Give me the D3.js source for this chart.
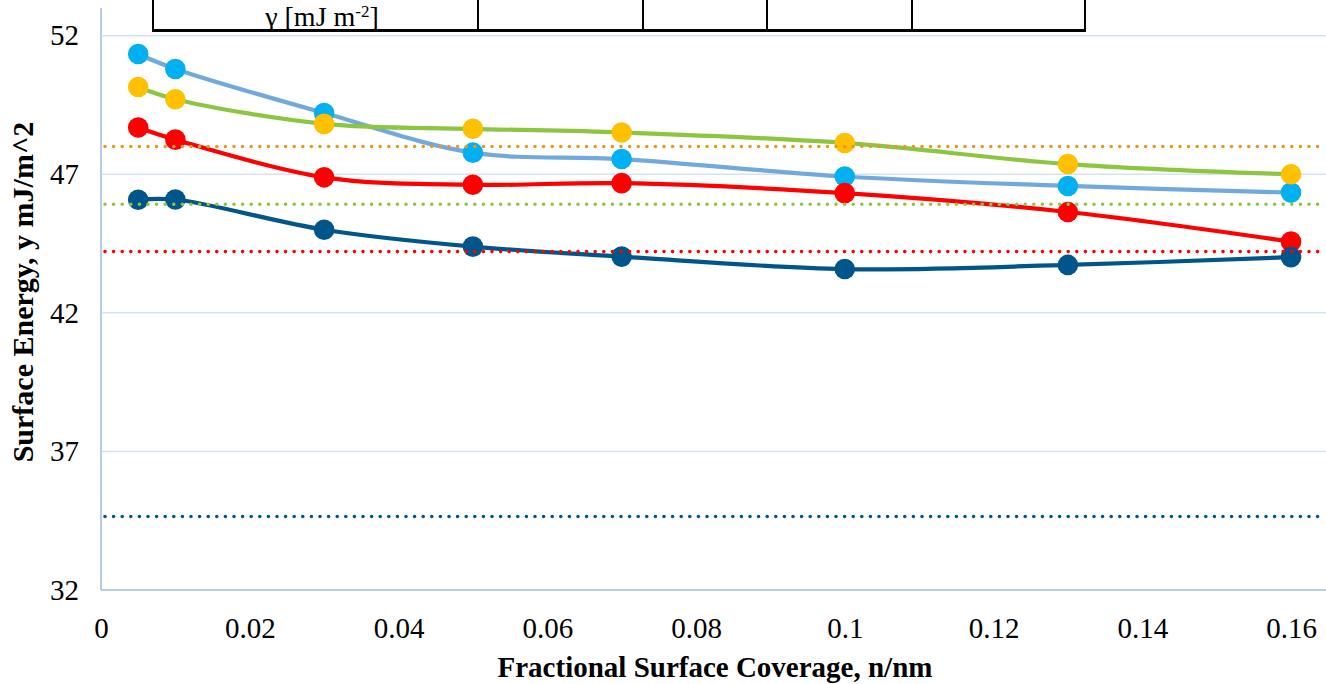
<!DOCTYPE html>
<html>
<head>
<meta charset="utf-8">
<script src="https://cdn.jsdelivr.net/npm/d3@7"></script>
<style>
html,body{margin:0;padding:0;background:#fff;overflow:hidden;}
svg{display:block;}
svg text{font-family:'Liberation Serif','Times New Roman',serif;}
</style>
</head>
<body>
<svg id="chart" width="1326" height="684"></svg>
<script>
// ---- data ----
const coverage = [0.005, 0.01, 0.03, 0.05, 0.07, 0.1, 0.13, 0.16];
const seriesCyan   = [51.34, 50.80, 49.21, 47.78, 47.55, 46.92, 46.58, 46.34];
const seriesYellow = [50.15, 49.71, 48.82, 48.64, 48.51, 48.13, 47.37, 47.00];
const seriesRed    = [48.69, 48.25, 46.89, 46.62, 46.68, 46.32, 45.64, 44.57];
const seriesNavy   = [46.08, 46.09, 45.00, 44.39, 44.03, 43.58, 43.73, 44.01];
const refOrange = 48.00;
const refGreen  = 45.92;
const refRed    = 44.21;
const refNavy   = 34.65;
const xTicks = [0, 0.02, 0.04, 0.06, 0.08, 0.1, 0.12, 0.14, 0.16];
const yTicks = [32, 37, 42, 47, 52];
const xTitle = "Fractional Surface Coverage, n/nm";
const yTitle = "Surface Energy, y mJ/m^2";

// ---- layout ----
const svg = d3.select("#chart");
const W = 1326, H = 684;
const left = 101, bottom = 590, right = W;
const x = d3.scaleLinear().domain([0, 0.16]).range([left, 1291]);
const y = d3.scaleLinear().domain([32, 53]).range([bottom, 8]);
const font = "'Liberation Serif','Times New Roman',serif";

// gridlines
svg.append("g").selectAll("line").data(yTicks.slice(1)).join("line")
  .attr("x1", left).attr("x2", right)
  .attr("y1", d => y(d)).attr("y2", d => y(d))
  .attr("stroke", "#d6e1f2").attr("stroke-width", 1.5);

// axes lines
svg.append("line").attr("x1", left).attr("x2", left)
  .attr("y1", y(53)).attr("y2", bottom)
  .attr("stroke", "#b9cbe9").attr("stroke-width", 2);
svg.append("line").attr("x1", left).attr("x2", right)
  .attr("y1", bottom).attr("y2", bottom)
  .attr("stroke", "#b9cbe9").attr("stroke-width", 2);

// y tick labels via axis
const yAxis = svg.append("g").attr("transform", `translate(${left},0)`)
  .call(d3.axisLeft(y).tickValues(yTicks).tickSize(0).tickPadding(22).tickFormat(d3.format("d")));
yAxis.attr("font-family", null).attr("font-size", null);
yAxis.select(".domain").remove();
yAxis.selectAll("text").style("font-family", font).style("font-size", "29px").attr("fill", "#000");

// x tick labels via axis
const xAxis = svg.append("g").attr("transform", `translate(0,${bottom})`)
  .call(d3.axisBottom(x).tickValues(xTicks).tickSize(0).tickPadding(27).tickFormat(d => d3.format("")(+d.toFixed(2))));
xAxis.attr("font-family", null).attr("font-size", null);
xAxis.select(".domain").remove();
xAxis.selectAll("text").style("font-family", font).style("font-size", "29px").attr("fill", "#000");

// axis titles
svg.append("text").attr("x", 715).attr("y", 677)
  .attr("text-anchor", "middle").style("font-family", font)
  .attr("font-weight", "bold").style("font-size", "29px").text(xTitle);
svg.append("text").attr("transform", `translate(33,292) rotate(-90)`)
  .attr("text-anchor", "middle").style("font-family", font)
  .attr("font-weight", "bold").style("font-size", "30px").text(yTitle);

// series
const series = [
  {vals: seriesCyan,   line: "#72a9dc", marker: "#00b0f0"},
  {vals: seriesYellow, line: "#8cc540", marker: "#ffc000"},
  {vals: seriesRed,    line: "#ff0000", marker: "#ff0000"},
  {vals: seriesNavy,   line: "#00568a", marker: "#00568a"}
];
const lineGen = d3.line().x(d => x(d[0])).y(d => y(d[1])).curve(d3.curveCatmullRom.alpha(0.5));
series.forEach(s => {
  const pts = coverage.map((c, i) => [c, s.vals[i]]);
  const g = svg.append("g");
  g.append("path").attr("d", lineGen(pts)).attr("fill", "none")
    .attr("stroke", s.line).attr("stroke-width", 4.2).attr("stroke-linejoin", "round");
  g.selectAll("circle").data(pts).join("circle")
    .attr("cx", d => x(d[0])).attr("cy", d => y(d[1])).attr("r", 10.3)
    .attr("fill", s.marker);
});

// reference dotted lines
const refs = [
  {v: refOrange, c: "#e39a25"},
  {v: refGreen,  c: "#8cc540"},
  {v: refRed,    c: "#ff0000"},
  {v: refNavy,   c: "#00568a"}
];
svg.append("g").selectAll("line").data(refs).join("line")
  .attr("x1", left + 4).attr("x2", right)
  .attr("y1", d => y(d.v)).attr("y2", d => y(d.v))
  .attr("stroke", d => d.c).attr("stroke-width", 3.6)
  .attr("stroke-linecap", "round").attr("stroke-dasharray", "0 8.6");

// table fragment at top
const tableCols = [153, 478, 643, 767, 912, 1085];
const tg = svg.append("g");
tg.selectAll("line.v").data(tableCols).join("line").attr("class", "v")
  .attr("x1", d => d).attr("x2", d => d).attr("y1", 0).attr("y2", 31)
  .attr("stroke", "#000").attr("stroke-width", 2);
tg.append("line").attr("x1", 152).attr("x2", 1086).attr("y1", 30.5).attr("y2", 30.5)
  .attr("stroke", "#000").attr("stroke-width", 3);
const tt = tg.append("text").attr("x", 322).attr("y", 26).attr("text-anchor", "middle")
  .style("font-family", font).style("font-size", "28px");
tt.append("tspan").text("γ [mJ m");
tt.append("tspan").style("font-size", "17px").attr("dy", -9).text("-2");
tt.append("tspan").attr("dy", 9).text("]");
</script>
</body>
</html>
